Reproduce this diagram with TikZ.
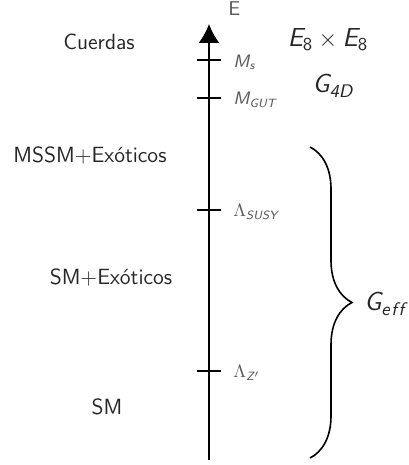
\documentclass[tikz,border=0pt]{standalone}
\usepackage{amsmath}
\usetikzlibrary{arrows.meta,decorations.pathreplacing}

\newcommand{\sym}[2]{$\textit{#1}_{\textit{#2}}$}

\begin{document}
\begin{tikzpicture}[
    x=0.5pt, y=-0.5pt,
    axis/.style={line width=0.8pt, -{Latex[length=9.5pt,width=10.5pt]}},
    tick/.style={line width=0.8pt},
    scalelbl/.style={anchor=west, inner sep=0pt, text=black!65, font=\small\sffamily},
    regime/.style={inner sep=0pt, text=black!85, font=\fontsize{11}{13}\selectfont\sffamily},
    group/.style={inner sep=0pt, text=black!85, font=\fontsize{13}{15}\selectfont\sffamily},
    brace/.style={line width=0.8pt, decorate, decoration={brace, amplitude=21pt}}
]
\useasboundingbox (0,0) rectangle (408,465);

% energy axis
\coordinate (base) at (209,460);
\coordinate (top) at (209,24);
\draw[axis] (base) -- (top);
\node[scalelbl, font=\normalsize\sffamily] (energy) at (228,9) {E};

% scales on the axis
\foreach \y/\name/\lbl in {60/ms/\sym{M}{s}, 98/mgut/\sym{M}{GUT}, 210/lsusy/{$\Lambda_{\textit{SUSY}}$}, 371/lz/{$\Lambda_{\textit{Z}'}$}} {
    \coordinate (t-\name) at (209,\y);
    \draw[tick] ([xshift=-6pt]t-\name) -- ([xshift=6pt]t-\name);
    \node[scalelbl] (\name) at (233,\y+2) {\lbl};
}

% regimes
\node[regime] (cuerdas) at (99,42) {Cuerdas};
\node[regime] (mssm) at (90,155) {MSSM+Ex\'oticos};
\node[regime] (smex) at (111,277) {SM+Ex\'oticos};
\node[regime] (sm) at (107,407) {SM};

% gauge groups
\node[group] (e8) at (328,40) {$\textit{E}_{\textsf{8}}\times\textit{E}_{\textsf{8}}$};
\node[group] (g4d) at (333,86) {\sym{G}{4D}};
\coordinate (b-top) at (310,147);
\coordinate (b-bot) at (310,458);
\draw[brace] (b-top) -- (b-bot);
\node[group, anchor=west] (geff) at (364,304) {\sym{G}{e\kern0.8pt f\kern0.8pt f}};
\end{tikzpicture}
\end{document}
